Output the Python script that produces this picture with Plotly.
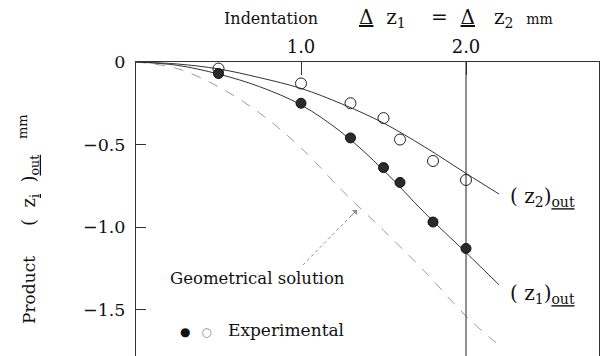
import plotly.graph_objects as go

# Experimental points (indentation Δz1 = Δz2, mm)
indent = [0.5, 1.0, 1.3, 1.5, 1.6, 1.8, 2.0]
z1_exp = [-0.07, -0.25, -0.46, -0.64, -0.73, -0.97, -1.13]
z2_exp = [-0.04, -0.13, -0.25, -0.34, -0.47, -0.60, -0.715]

# Calculated curves for (z1)out and (z2)out
curve_x = [0, 0.25, 0.5, 0.75, 1.0, 1.25, 1.5, 1.75, 2.0, 2.2]
z1_curve = [0, -0.02, -0.073, -0.15, -0.26, -0.43, -0.655, -0.915, -1.155, -1.35]
z2_curve = [0, -0.012, -0.042, -0.095, -0.16, -0.255, -0.37, -0.515, -0.675, -0.80]

# Geometrical solution
geo_x = [0, 0.25, 0.5, 0.75, 1.0, 1.25, 1.5, 1.75, 2.0, 2.18]
geo_y = [0, -0.04, -0.15, -0.31, -0.52, -0.78, -1.02, -1.27, -1.54, -1.70]

x_ticks = [1.0, 2.0]
x_ticktext = ["1.0", "2.0"]
y_ticks = [0, -0.5, -1.0, -1.5]
y_ticktext = ["0", "\u22120.5", "\u22121.0", "\u22121.5"]

FONT = "DejaVu Serif"
INK = "#111111"
SP = "&nbsp;"

fig = go.Figure()

fig.add_trace(go.Scatter(x=geo_x, y=geo_y, mode="lines",
                         line=dict(color="#9a9a9a", width=1, dash="10px,9px", shape="spline"),
                         hoverinfo="skip"))
fig.add_trace(go.Scatter(x=curve_x, y=z2_curve, mode="lines",
                         line=dict(color="#333333", width=1, shape="spline"),
                         hoverinfo="skip"))
fig.add_trace(go.Scatter(x=curve_x, y=z1_curve, mode="lines",
                         line=dict(color="#333333", width=1, shape="spline"),
                         hoverinfo="skip"))
fig.add_trace(go.Scatter(x=indent, y=z2_exp, mode="markers",
                         marker=dict(symbol="circle-open", size=11,
                                     color="#222222", line=dict(width=1))))
fig.add_trace(go.Scatter(x=indent, y=z1_exp, mode="markers",
                         marker=dict(symbol="circle", size=10, color="#2a2a2a",
                                     line=dict(color="#111111", width=1))))

# vertical reference line at 2.0 mm
fig.add_shape(type="line", xref="x", yref="paper", x0=2.0, x1=2.0, y0=0, y1=1,
              line=dict(color="#222222", width=1))

# dotted leader from the label to the dashed curve
fig.add_shape(type="line", xref="x", yref="y", x0=1.012, y0=-1.23, x1=1.335, y1=-0.90,
              line=dict(color="#8a8a8a", width=1, dash="dot"))

formula = ("<u>\u0394</u>" + SP * 2 + "z<sub>1</sub>" + SP * 4 + "=" + SP * 2
           + "<u>\u0394</u>" + SP * 3 + "z<sub>2</sub>" + SP * 2
           + "<span style='font-size:14px'>mm</span>")

# text items placed in pixel terms: (x, y, text, size, xanchor, angle)
labels = [
    (222, 18, "Indentation", 16, "left", 0),
    (357, 18, formula, 20, "left", 0),
    (168, 278, "Geometrical solution", 16.5, "left", 0),
    (178, 330, "<span style='font-size:12px'>\u25cf</span>  "
               "<span style='font-size:12px;color:#888888'>\u25cb</span>   Experimental", 17, "left", 0),
    (508, 197, "( z<sub>2</sub>)<sub><u>out</u></sub>", 20, "left", 0),
    (508, 294, "( z<sub>1</sub>)<sub><u>out</u></sub>", 20, "left", 0),
    (29, 290, "Product", 17, "center", -90),
    (30, 191, "(  z<sub><u>i</u></sub>  )<sub><u>out</u></sub>", 18, "center", -90),
    (22, 127, "mm", 13, "center", -90),
]

annotations = [
    dict(x=1.339, y=-0.897, xref="x", yref="y", ax=1.29, ay=-0.948, axref="x", ayref="y",
         text="", showarrow=True, arrowhead=1, arrowsize=1.2, arrowwidth=1,
         arrowcolor="#8a8a8a"),
]
for px, py, txt, size, xa, ang in labels:
    annotations.append(dict(
        xref="paper", yref="paper", showarrow=False,
        x=(px - 136) / (599 - 136), y=1 - (py - 62) / (356 - 62),
        text=txt, textangle=ang, xanchor=xa, yanchor="middle",
        font=dict(family=FONT, size=size, color=INK),
    ))

fig.update_layout(
    width=601, height=356,
    margin=dict(l=136, r=2, t=62, b=0, pad=0),
    paper_bgcolor="white", plot_bgcolor="white",
    showlegend=False,
    font=dict(family=FONT, size=18, color=INK),
    annotations=annotations,
)
fig.update_xaxes(range=[0, 463 / 165], side="top", showgrid=False, zeroline=False,
                 showline=True, linecolor="#333333", linewidth=1, mirror=False,
                 tickvals=x_ticks, ticktext=x_ticktext, ticks="inside", ticklen=13,
                 tickcolor="#333333", ticklabelstandoff=1,
                 tickfont=dict(family=FONT, size=18, color=INK))
fig.update_yaxes(range=[-294 / 165, 0], showgrid=False, zeroline=False,
                 showline=True, linecolor="#333333", linewidth=1, mirror=True,
                 tickvals=y_ticks, ticktext=y_ticktext, ticks="inside", ticklen=10,
                 tickcolor="#333333", ticklabelstandoff=6,
                 tickfont=dict(family=FONT, size=17.5, color=INK))

fig.write_html("out.html")
